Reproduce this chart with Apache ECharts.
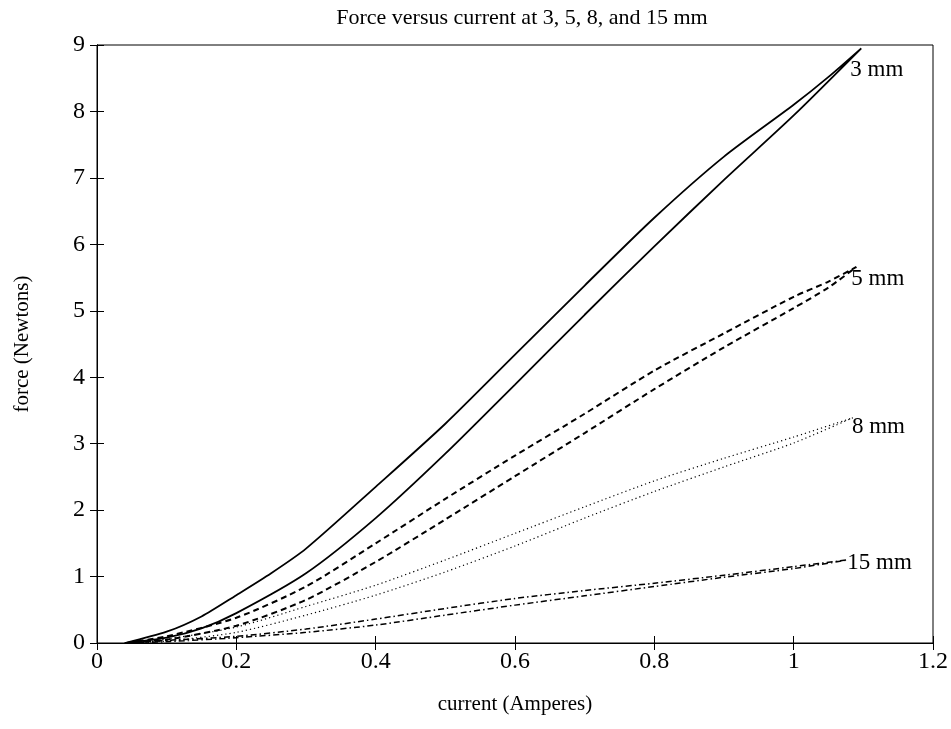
<!DOCTYPE html>
<html>
<head>
<meta charset="utf-8">
<script src="https://cdn.jsdelivr.net/npm/echarts@6/dist/echarts.min.js"></script>
<style>
  html, body { margin: 0; padding: 0; background: #fff; }
  #main { width: 951px; height: 729px; }
</style>
</head>
<body>
<div id="main"></div>
<script>
// each gap is a hysteresis loop: rising branch then falling branch
const gap3 = [[0.04, 0], [0.1, 0.08], [0.15, 0.22], [0.2, 0.45], [0.3, 1.05], [0.4, 1.88], [0.5, 2.85],
  [0.6, 3.89], [0.7, 4.94], [0.8, 5.97], [0.9, 6.97], [1.0, 7.94], [1.097, 8.95],
  [1.05, 8.52], [1.0, 8.1], [0.9, 7.32], [0.8, 6.4], [0.7, 5.38], [0.6, 4.34], [0.5, 3.3],
  [0.4, 2.35], [0.3, 1.42], [0.25, 1.05], [0.2, 0.72], [0.15, 0.4], [0.1, 0.17], [0.04, 0]];
const gap5 = [[0.04, 0], [0.1, 0.05], [0.2, 0.26], [0.3, 0.65], [0.4, 1.22], [0.5, 1.86], [0.6, 2.51],
  [0.7, 3.16], [0.8, 3.82], [0.9, 4.45], [1.0, 5.04], [1.05, 5.35], [1.09, 5.66],
  [1.05, 5.44], [1.0, 5.21], [0.9, 4.66], [0.8, 4.1], [0.7, 3.45], [0.6, 2.82], [0.5, 2.17],
  [0.4, 1.5], [0.3, 0.85], [0.2, 0.38], [0.1, 0.1], [0.04, 0]];
const gap8 = [[0.04, 0], [0.1, 0.03], [0.2, 0.16], [0.3, 0.42], [0.4, 0.72], [0.5, 1.07], [0.6, 1.46],
  [0.7, 1.88], [0.8, 2.28], [0.9, 2.65], [1.0, 3.01], [1.085, 3.39],
  [1.0, 3.1], [0.9, 2.78], [0.8, 2.44], [0.7, 2.05], [0.6, 1.65], [0.5, 1.25], [0.4, 0.87],
  [0.3, 0.55], [0.2, 0.24], [0.1, 0.06], [0.04, 0]];
const gap15 = [[0.04, 0], [0.1, 0.02], [0.2, 0.08], [0.3, 0.16], [0.4, 0.27], [0.5, 0.42], [0.6, 0.57],
  [0.7, 0.71], [0.8, 0.85], [0.9, 0.99], [1.0, 1.12], [1.077, 1.25],
  [1.0, 1.15], [0.9, 1.02], [0.8, 0.9], [0.7, 0.79], [0.6, 0.67], [0.5, 0.52], [0.4, 0.36],
  [0.3, 0.21], [0.2, 0.1], [0.1, 0.04], [0.04, 0]];
const gapNames = ['3 mm', '5 mm', '8 mm', '15 mm'];

const serif = 'Liberation Serif';

// tip of the loop (largest current) carries the gap label
function tipOf(data) {
  let tip = data[0];
  data.forEach(p => { if (p[0] > tip[0]) tip = p; });
  return tip;
}

const lineStyles = [
  { color: '#000', width: 1.8, type: 'solid' },
  { color: '#000', width: 2, type: [6, 4] },
  { color: '#000', width: 1.2, type: [1.2, 3] },
  { color: '#000', width: 1.5, type: [6, 3, 1.5, 3] }
];
const offsets = [[-16, 22], [-10, 12], [-6, 9], [-5, 3]];
const allData = [gap3, gap5, gap8, gap15];

const myChart = echarts.init(document.getElementById('main'));

const axisCommon = {
  axisLine: { show: true, lineStyle: { color: '#000', width: 1 } },
  axisTick: { show: true, inside: true, length: 7, lineStyle: { color: '#000' } },
  splitLine: { show: false }
};

const series = allData.map((d, i) => ({
  name: gapNames[i],
  type: 'line',
  xAxisIndex: 0,
  yAxisIndex: 0,
  data: d,
  showSymbol: false,
  symbol: 'none',
  smooth: 0.25,
  lineStyle: lineStyles[i],
  markPoint: {
    symbol: 'circle',
    symbolSize: 0,
    silent: true,
    label: {
      show: true, position: 'right', formatter: gapNames[i], offset: offsets[i],
      color: '#000', fontFamily: serif, fontSize: 23
    },
    data: [{ coord: tipOf(d) }]
  }
}));
// empty series so the mirrored top/right axes get drawn with their ticks
series.push({ type: 'line', xAxisIndex: 1, yAxisIndex: 1, data: [], symbol: 'none' });

myChart.setOption({
  animation: false,
  backgroundColor: '#fff',
  title: {
    text: 'Force versus current at 3, 5, 8, and 15 mm',
    left: 517, top: 2, textAlign: 'center',
    textStyle: { fontFamily: serif, fontSize: 22, fontWeight: 'normal', color: '#000' }
  },
  grid: { left: 97, right: 18, top: 45, bottom: 86, show: true, borderColor: '#000', borderWidth: 1 },
  xAxis: [
    Object.assign({
      type: 'value', min: 0, max: 1.2, interval: 0.2,
      name: 'current (Amperes)', nameLocation: 'middle', nameGap: 51,
      nameTextStyle: { fontFamily: serif, fontSize: 21, color: '#000' },
      axisLabel: { fontFamily: serif, fontSize: 24, color: '#000', margin: 7 }
    }, axisCommon),
    Object.assign({
      type: 'value', min: 0, max: 1.2, interval: 0.2, position: 'top',
      axisLabel: { show: false }
    }, axisCommon)
  ],
  yAxis: [
    Object.assign({
      type: 'value', min: 0, max: 9, interval: 1,
      name: 'force (Newtons)', nameLocation: 'middle', nameGap: 64, nameRotate: 90,
      nameTextStyle: { fontFamily: serif, fontSize: 21, color: '#000' },
      axisLabel: { fontFamily: serif, fontSize: 24, color: '#000', margin: 12 }
    }, axisCommon),
    Object.assign({
      type: 'value', min: 0, max: 9, interval: 1, position: 'right',
      axisLabel: { show: false }
    }, axisCommon)
  ],
  series: series
});
</script>
</body>
</html>
